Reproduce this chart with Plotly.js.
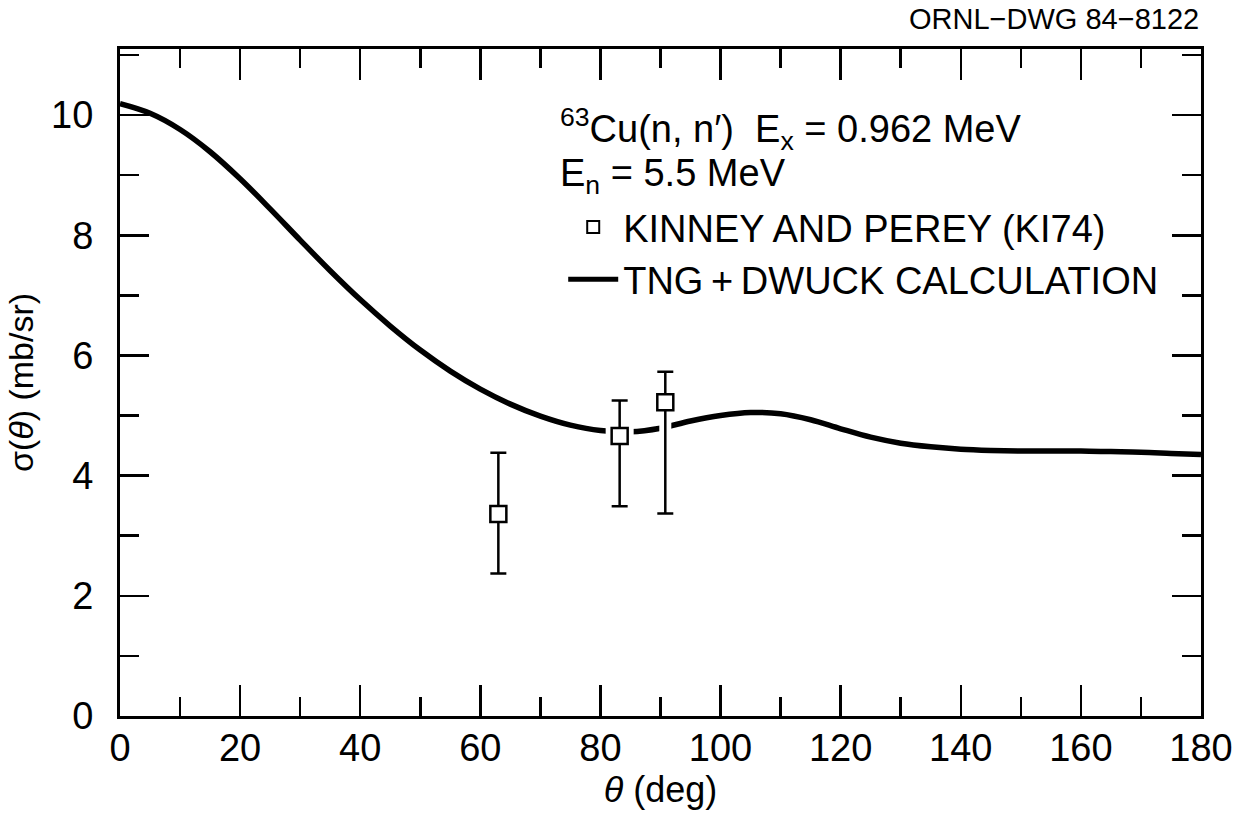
<!DOCTYPE html>
<html>
<head>
<meta charset="utf-8">
<script src="https://cdn.plot.ly/plotly-3.0.1.min.js"></script>
<style>
  html, body { margin: 0; padding: 0; background: #fff; }
  #chart { width: 1251px; height: 816px; }
</style>
</head>
<body>
<div id="chart"></div>
<script>
// TNG + DWUCK calculated angular distribution, 63Cu(n,n') Ex = 0.962 MeV, En = 5.5 MeV
const calcAngle = [0, 5, 10, 15, 20, 25, 30, 35, 40, 45, 50, 55, 60, 65, 70, 75, 80, 85, 90,
                   95, 100, 105, 110, 115, 120, 125, 130, 135, 140, 145, 150, 155, 160, 165, 170, 175, 180];
const calcSigma = [10.19, 10.03, 9.76, 9.39, 8.94, 8.44, 7.92, 7.41, 6.93, 6.49, 6.09, 5.74, 5.44, 5.19, 4.99, 4.84, 4.75, 4.73, 4.79,
                   4.91, 5.00, 5.05, 5.03, 4.93, 4.78, 4.64, 4.54, 4.48, 4.44, 4.42, 4.41, 4.41, 4.41, 4.40, 4.39, 4.37, 4.35];

// Kinney and Perey (KI74) measurements with error-bar limits
const expAngle = [63.0, 83.2, 90.8];
const expSigma = [3.36, 4.66, 5.22];
const expHigh  = [4.38, 5.25, 5.73];
const expLow   = [2.37, 3.49, 3.37];

const xTickVals = [0, 20, 40, 60, 80, 100, 120, 140, 160, 180];
const yTickVals = [0, 2, 4, 6, 8, 10];

const errUp = expHigh.map((h, i) => h - expSigma[i]);
const errDown = expLow.map((l, i) => expSigma[i] - l);

const FONT = 'Liberation Sans, Arial, sans-serif';

const traces = [
  {
    x: calcAngle, y: calcSigma,
    type: 'scatter', mode: 'lines',
    name: 'TNG\u2009+\u2009DWUCK CALCULATION',
    line: { color: '#000', width: 5.5, shape: 'spline', smoothing: 1.0 },
    legendrank: 2
  },
  {
    // white backing that breaks the curve where it meets the data symbols
    x: expAngle, y: expSigma,
    type: 'scatter', mode: 'markers',
    showlegend: false, hoverinfo: 'skip',
    marker: { symbol: 'square', size: 28, color: '#fff', line: { width: 0 } },
    error_y: { type: 'data', array: errUp, arrayminus: errDown, color: '#fff', thickness: 12, width: 0 }
  },
  {
    x: expAngle, y: expSigma,
    type: 'scatter', mode: 'markers',
    name: 'KINNEY AND PEREY (KI74)',
    marker: { symbol: 'square', size: 16, color: '#fff', line: { color: '#000', width: 2.5 } },
    error_y: { type: 'data', array: errUp, arrayminus: errDown, color: '#000', thickness: 2.5, width: 8 },
    legendrank: 1
  }
];

const layout = {
  width: 1251, height: 816,
  margin: { l: 120, r: 50, t: 49, b: 100 },
  paper_bgcolor: '#fff', plot_bgcolor: '#fff',
  font: { family: FONT, color: '#000', size: 38 },
  showlegend: true,
  legend: {
    x: 0.41, y: 0.78, xanchor: 'left', yanchor: 'top',
    bgcolor: 'rgba(0,0,0,0)', borderwidth: 0,
    font: { family: FONT, size: 38, color: '#000' },
    itemsizing: 'constant', itemwidth: 50, tracegroupgap: 0
  },
  xaxis: {
    range: [0, 180], tickvals: xTickVals, ticktext: xTickVals.map(String),
    ticks: 'inside', ticklen: 31, tickwidth: 2.5, tickcolor: '#000',
    minor: { dtick: 10, ticks: 'inside', ticklen: 19, tickwidth: 2.5, tickcolor: '#000' },
    showline: true, linecolor: '#000', linewidth: 3, mirror: 'ticks',
    showgrid: false, zeroline: false,
    ticklabelstandoff: -4,
    tickfont: { family: FONT, size: 38 },
    title: { text: '<i>θ</i> (deg)', font: { family: FONT, size: 36 }, standoff: 10 }
  },
  yaxis: {
    range: [0, 11.1], tickvals: yTickVals, ticktext: yTickVals.map(String),
    ticks: 'inside', ticklen: 29, tickwidth: 2.5, tickcolor: '#000',
    minor: { dtick: 1, ticks: 'inside', ticklen: 19, tickwidth: 2.5, tickcolor: '#000' },
    showline: true, linecolor: '#000', linewidth: 3, mirror: 'ticks',
    showgrid: false, zeroline: false,
    ticklabelstandoff: 16,
    tickfont: { family: FONT, size: 38 },
    title: { text: 'σ(<i>θ</i>) (mb/sr)', font: { family: FONT, size: 34 }, standoff: 8 }
  },
  annotations: [
    {
      xref: 'paper', yref: 'paper', x: 1.0, y: 1.045, xanchor: 'right', yanchor: 'middle',
      text: 'ORNL−DWG 84−8122', showarrow: false, font: { family: FONT, size: 29 }
    },
    {
      xref: 'paper', yref: 'paper', x: 0.405, y: 0.88, xanchor: 'left', yanchor: 'middle',
      text: '<sup>63</sup>Cu(n, n′)  E<sub>x</sub> = 0.962 MeV', showarrow: false,
      font: { family: FONT, size: 38 }
    },
    {
      xref: 'paper', yref: 'paper', x: 0.405, y: 0.81, xanchor: 'left', yanchor: 'middle',
      text: 'E<sub>n</sub> = 5.5 MeV', showarrow: false,
      font: { family: FONT, size: 38 }
    }
  ]
};

Plotly.newPlot('chart', traces, layout, { staticPlot: true, displayModeBar: false });
</script>
</body>
</html>
